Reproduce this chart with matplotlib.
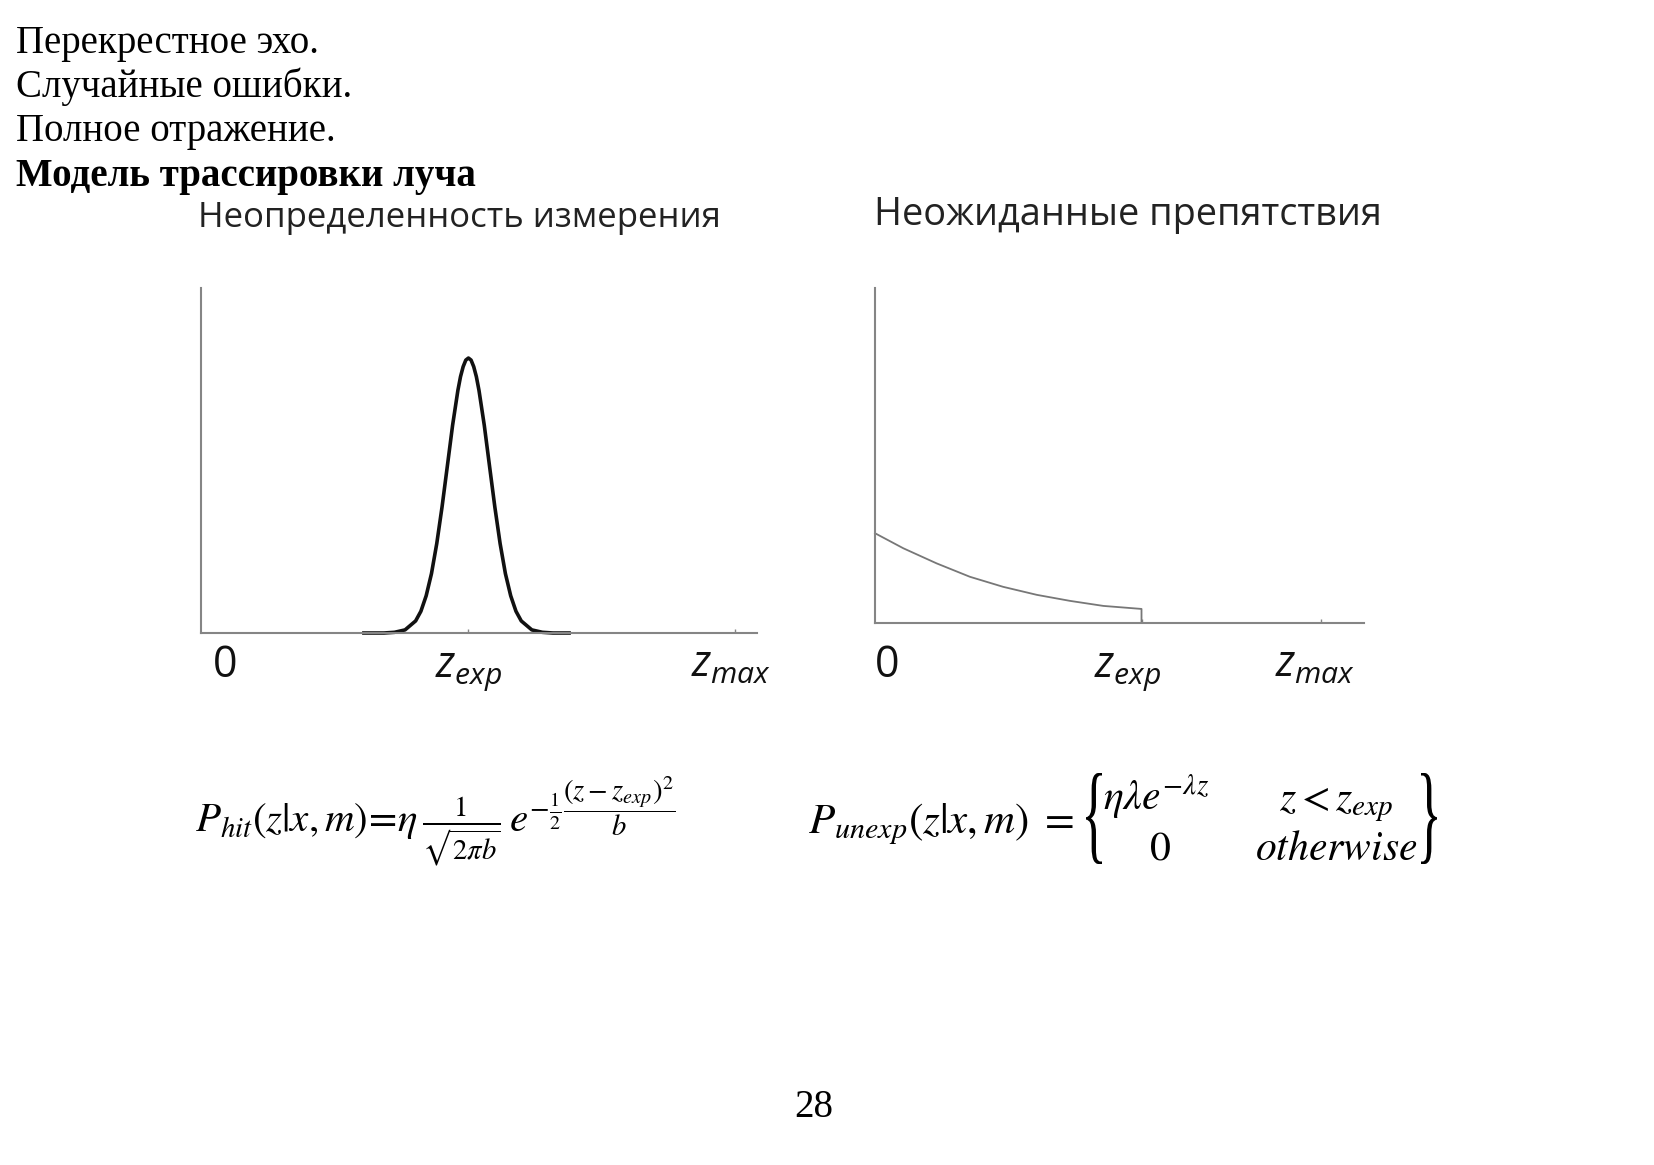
import numpy as np
import matplotlib.pyplot as plt
from matplotlib.textpath import TextPath
from matplotlib.patches import PathPatch
from matplotlib.transforms import Affine2D
from matplotlib.font_manager import FontProperties

plt.rcParams['mathtext.fontset'] = 'custom'
plt.rcParams['mathtext.rm'] = 'Open Sans'
plt.rcParams['mathtext.it'] = 'Open Sans:italic'
plt.rcParams['mathtext.bf'] = 'Open Sans:bold'

# текст страницы
lines = ['Перекрестное эхо.', 'Случайные ошибки.', 'Полное отражение.']
heading = 'Модель трассировки луча'
titles = ['Неопределенность измерения', 'Неожиданные препятствия']
page_no = '28'

# кривая P_hit (доли осей)
hit_x = [0.293, 0.329, 0.348, 0.367, 0.386, 0.3955, 0.405, 0.4145, 0.424, 0.4335,
         0.443, 0.4525, 0.462, 0.46675, 0.4715, 0.47625, 0.481, 0.48575, 0.4905,
         0.49525, 0.500, 0.5095, 0.519, 0.5285, 0.538, 0.5475, 0.557, 0.5665,
         0.576, 0.595, 0.614, 0.633, 0.662]
hit_y = [0.0, 0.0, 0.002, 0.009, 0.035, 0.063, 0.108, 0.172, 0.259, 0.365,
         0.483, 0.602, 0.703, 0.743, 0.772, 0.791, 0.797, 0.791, 0.772,
         0.743, 0.703, 0.602, 0.483, 0.365, 0.259, 0.172, 0.108, 0.063,
         0.035, 0.009, 0.002, 0.0, 0.0]
hit_zexp, hit_zmax = 0.481, 0.960

# кривая P_unexp
unexp_x = [0.0, 0.058, 0.126, 0.194, 0.262, 0.331, 0.399, 0.467, 0.545, 0.545]
unexp_y = [0.268, 0.223, 0.178, 0.138, 0.108, 0.084, 0.066, 0.051, 0.042, 0.0]
unexp_zexp, unexp_zmax = 0.545, 0.912

W, H = 1654, 1165
def fx(p):
    return p / W
def fy(p):
    return 1 - p / H

fig = plt.figure(figsize=(16.54, 11.65), dpi=100)

serif = 'Liberation Serif'
base = [53, 97, 141]
for t, b in zip(lines, base):
    fig.text(fx(16), fy(b), t, family=serif, fontsize=28, va='baseline', ha='left')
fig.text(fx(16), fy(186), heading, family=serif, fontsize=28, weight='bold',
         va='baseline', ha='left')
fig.text(fx(814), fy(1117), page_no, family=serif, fontsize=28, va='baseline', ha='center')

gray = '#858585'

def setup(ax, zexp, zmax):
    ax.set_xlim(0, 1)
    ax.set_ylim(0, 1)
    for s in ['top', 'right']:
        ax.spines[s].set_visible(False)
    for s in ['left', 'bottom']:
        ax.spines[s].set_color(gray)
        ax.spines[s].set_linewidth(1.5)
    ax.set_yticks([])
    ax.set_xticks([zexp, zmax])
    ax.tick_params(axis='x', direction='in', length=3, width=1, color=gray,
                   labelbottom=False)
    ax.patch.set_alpha(0)

ax1 = fig.add_axes([fx(201), fy(633), 556 / W, 345 / H])
setup(ax1, hit_zexp, hit_zmax)
ax1.plot(hit_x, hit_y, color='#111111', lw=2.6, clip_on=False,
         solid_joinstyle='round')

ax2 = fig.add_axes([fx(875), fy(623), 489 / W, 335 / H])
setup(ax2, unexp_zexp, unexp_zmax)
ax2.plot(unexp_x, unexp_y, color='#777777', lw=1.3, clip_on=False)

# подписи осей
sans = 'Open Sans'
lab_y = fy(677)
for ax, x0, ze, zm in [(ax1, 0.043, hit_zexp, 0.954), (ax2, 0.025, 0.516, 0.899)]:
    pos = ax.get_position()
    for x, s in [(x0, '0'), (ze, r'$z_{exp}$'), (zm, r'$z_{max}$')]:
        fig.text(pos.x0 + x * pos.width, lab_y, s, family=sans, fontsize=31,
                 ha='center', va='baseline', color='#111111')

fig.text(fx(198), fy(227), titles[0], family=sans, fontsize=25, ha='left',
         va='baseline', color='#222222')
fig.text(fx(874), fy(225), titles[1], family=sans, fontsize=27.3, ha='left',
         va='baseline', color='#222222')

# формулы
def mt(x, y, s, size, ha='left'):
    t = fig.text(fx(x), fy(y), s, fontsize=size, ha=ha, va='baseline')
    t.set_math_fontfamily('stix')
    return t

mt(195, 833, r'$P_{hit}(z|x,m)\!=\!\eta\,\frac{1}{\sqrt{2\pi b}}\,'
             r'e^{-\frac{1}{2}\genfrac{}{}{1.2}{0}{(z-z_{exp})^2}{b}}$', 29.5)

mt(808, 833, r'$P_{unexp}(z|x,m)\;=$', 31)
mt(1103, 810, r'$\eta\lambda e^{-\lambda z}$', 30)
mt(1336, 810, r'$z < z_{exp}$', 30, ha='center')
mt(1160, 860, r'$0$', 30, ha='center')
mt(1336, 860, r'$otherwise$', 30, ha='center')

def brace(ch, x0, x1, ytop, ybot):
    tp = TextPath((0, 0), ch, size=100, prop=FontProperties(family=serif))
    bb = tp.get_extents()
    tr = (Affine2D().translate(-bb.x0, -bb.y0)
          .scale((x1 - x0) / bb.width / W, (ybot - ytop) / bb.height / H)
          .translate(x0 / W, 1 - ybot / H))
    fig.add_artist(PathPatch(tp, transform=tr + fig.transFigure,
                             facecolor='black', lw=0))

brace('{', 1086, 1102, 773, 864)
brace('}', 1421, 1437, 773, 864)

fig.savefig('out.png', dpi=100, facecolor='white')
